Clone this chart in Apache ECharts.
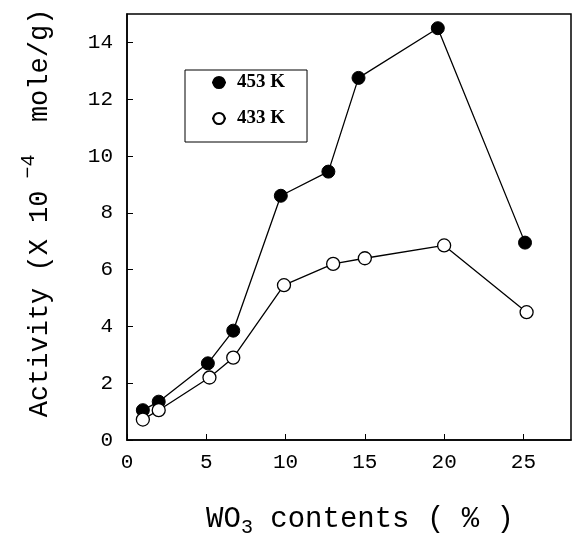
<!DOCTYPE html>
<html>
<head>
<meta charset="utf-8">
<script src="https://cdn.jsdelivr.net/npm/echarts@6/dist/echarts.min.js"></script>
<style>
  html, body { margin: 0; padding: 0; background: #fff; }
  #chart { width: 572px; height: 546px; }
</style>
</head>
<body>
<div id="chart"></div>
<script>
// WO3 content (%) vs activity, two reaction temperatures
const wo3At453 = [1.0, 2.0, 5.1, 6.7, 9.7, 12.7, 14.6, 19.6, 25.1];
const act453 = [1.05, 1.35, 2.7, 3.85, 8.6, 9.45, 12.75, 14.5, 6.95];
const wo3At433 = [1.0, 2.0, 5.2, 6.7, 9.9, 13.0, 15.0, 20.0, 25.2];
const act433 = [0.72, 1.05, 2.2, 2.9, 5.45, 6.2, 6.4, 6.85, 4.5];
const seriesNames = ['453 K', '433 K'];

const mono = 'Liberation Mono';
const pair = (xs, ys) => xs.map((x, i) => [x, ys[i]]);

const chart = echarts.init(document.getElementById('chart'));
chart.setOption({
  animation: false,
  backgroundColor: '#fff',
  grid: {
    left: 127, right: 1, top: 14, bottom: 106,
    show: true, borderColor: '#000', borderWidth: 1.5
  },
  legend: {
    data: seriesNames,
    orient: 'vertical',
    left: 185, top: 70,
    padding: [3, 22, 14, 26],
    itemGap: 17,
    itemWidth: 14, itemHeight: 14,
    backgroundColor: '#fff',
    borderColor: '#000', borderWidth: 1,
    textStyle: {
      fontFamily: 'Liberation Serif', fontSize: 19, fontWeight: 'bold',
      color: '#000', padding: [0, 0, 0, 6]
    }
  },
  xAxis: {
    type: 'value',
    min: 0, max: 28, interval: 5,
    name: '{m|WO}{s|3}{m| contents ( % )}',
    nameLocation: 'middle',
    nameGap: 60,
    nameTextStyle: {
      padding: [0, 0, 0, 22],
      rich: {
        m: { fontFamily: mono, fontSize: 29, color: '#000' },
        s: { fontFamily: mono, fontSize: 20, color: '#000', padding: [18, 0, 0, 0] }
      }
    },
    axisLine: { lineStyle: { color: '#000', width: 1.5 } },
    axisTick: { inside: true, length: 6, lineStyle: { color: '#000' } },
    axisLabel: { margin: 12, fontFamily: mono, fontSize: 21, color: '#000', showMaxLabel: false },
    splitLine: { show: false }
  },
  yAxis: {
    type: 'value',
    min: 0, max: 15, interval: 2,
    name: '{m|Activity (X 10}{s| \u22124}{m|  mole/g)}',
    nameLocation: 'middle',
    nameRotate: 90,
    nameGap: 66,
    nameTextStyle: {
      padding: [0, 0, 0, 28],
      rich: {
        m: { fontFamily: mono, fontSize: 27, color: '#000' },
        s: { fontFamily: mono, fontSize: 20, color: '#000', padding: [0, 0, 22, 0] }
      }
    },
    axisLine: { lineStyle: { color: '#000', width: 1.5 } },
    axisTick: { inside: true, length: 6, lineStyle: { color: '#000' } },
    axisLabel: { margin: 14, fontFamily: mono, fontSize: 21, color: '#000', showMaxLabel: false },
    splitLine: { show: false }
  },
  series: [
    {
      name: seriesNames[0],
      type: 'line',
      data: pair(wo3At453, act453),
      symbol: 'circle', symbolSize: 13,
      lineStyle: { color: '#000', width: 1.3 },
      itemStyle: { color: '#000', borderColor: '#000', borderWidth: 1 },
      z: 2
    },
    {
      name: seriesNames[1],
      type: 'line',
      data: pair(wo3At433, act433),
      symbol: 'circle', symbolSize: 13,
      lineStyle: { color: '#000', width: 1.3 },
      itemStyle: { color: '#fff', borderColor: '#000', borderWidth: 1.3 },
      z: 3
    }
  ]
});
</script>
</body>
</html>
